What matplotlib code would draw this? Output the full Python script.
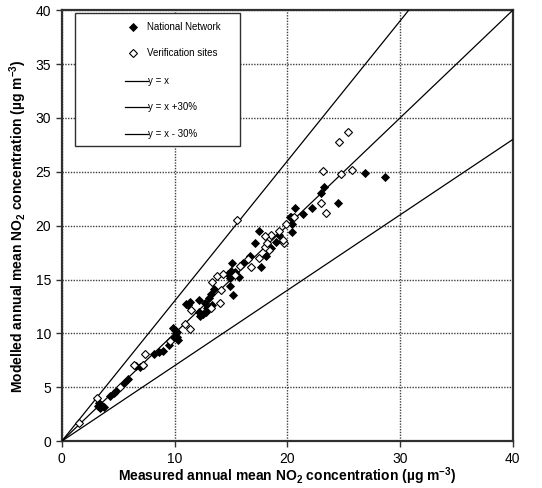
import matplotlib
matplotlib.use("Agg")
import matplotlib.pyplot as plt
from matplotlib.patches import Rectangle
import numpy as np

plt.rcParams['font.family'] = ['Liberation Sans', 'DejaVu Sans']
plt.rcParams['mathtext.fontset'] = 'custom'
plt.rcParams['mathtext.rm'] = 'Liberation Sans:bold'
plt.rcParams['mathtext.it'] = 'Liberation Sans:bold:italic'
plt.rcParams['mathtext.bf'] = 'Liberation Sans:bold'
plt.rcParams['mathtext.default'] = 'rm'

# National Network (filled diamonds): measured, modelled
nn_x = [3.2, 3.4, 3.5, 3.7, 3.3, 4.3, 4.6, 4.8, 5.5, 5.9, 6.6, 6.9, 7.2, 8.2, 8.6, 9.0, 9.5,
        9.9, 10.0, 10.1, 10.2, 9.9, 10.2, 10.3, 11.2, 11.0, 11.4, 12.2, 12.7, 12.9, 12.2, 12.5,
        12.8, 12.3, 13.3, 13.1, 13.2, 13.5, 14.7, 14.9, 15.2, 15.0, 15.4, 15.7, 14.9, 15.1,
        16.1, 16.7, 17.7, 18.1, 17.1, 17.5, 18.6, 19.0, 19.3, 20.4, 20.4, 20.2, 20.3, 20.7,
        21.4, 22.2, 23.0, 23.3, 24.5, 26.9, 28.7]
nn_y = [3.3, 3.1, 3.4, 3.2, 3.5, 4.2, 4.5, 4.7, 5.4, 5.8, 7.0, 6.9, 7.1, 8.1, 8.3, 8.4, 8.9,
        9.6, 10.3, 10.0, 9.7, 10.5, 10.1, 9.4, 12.6, 12.7, 12.9, 13.1, 12.8, 12.4, 12.0, 11.8,
        12.0, 11.6, 12.6, 13.3, 13.7, 14.1, 15.5, 14.4, 13.6, 15.8, 15.7, 15.2, 15.1, 16.5,
        16.5, 17.2, 16.2, 17.2, 18.4, 19.5, 17.9, 18.5, 19.1, 20.2, 19.4, 20.8, 20.8, 21.6,
        21.1, 21.6, 23.0, 23.6, 22.1, 24.9, 24.5]

# Verification sites (open diamonds): measured, modelled
vs_x = [1.5, 3.1, 5.2, 6.4, 7.2, 7.4, 9.6, 10.9, 11.4, 11.5, 13.2, 14.0, 13.3, 14.1, 13.8,
        14.3, 15.4, 15.8, 16.8, 16.5, 17.5, 18.4, 18.0, 18.2, 19.7, 19.6, 19.3, 18.6, 18.0,
        19.9, 15.5, 20.6, 23.0, 23.4, 23.2, 24.8, 25.7, 24.6, 25.4]
vs_y = [1.7, 4.0, 5.0, 7.1, 7.1, 8.1, 9.3, 10.9, 10.4, 12.2, 12.4, 12.8, 14.8, 14.0, 15.3,
        15.5, 15.4, 16.3, 16.2, 16.9, 17.0, 17.7, 18.0, 18.4, 18.4, 18.7, 19.5, 19.1, 19.0,
        20.2, 20.5, 20.8, 22.1, 21.2, 25.1, 24.8, 25.2, 27.8, 28.7]

line_x = [0, 40]
slopes = [1.0, 1.3, 0.7]
legend_labels = ["National Network", "Verification sites", "y = x", "y = x +30%", "y = x - 30%"]

fig = plt.figure(figsize=(5.42, 4.88), dpi=100)
ax = fig.add_axes([0.114, 0.096, 0.832, 0.883])

ax.set_xlim(0, 40)
ax.set_ylim(0, 40)
ax.set_xticks([0, 10, 20, 30, 40])
ax.set_yticks(np.arange(0, 41, 5))
ax.grid(True, color='#404040', linestyle=(0, (1, 1)), linewidth=1.0)
ax.set_axisbelow(True)

ax.plot(nn_x, nn_y, linestyle='none', marker='D', markersize=3.8,
        markerfacecolor='black', markeredgecolor='black', markeredgewidth=0.6, zorder=4)
ax.plot(vs_x, vs_y, linestyle='none', marker='D', markersize=3.8,
        markerfacecolor='white', markeredgecolor='black', markeredgewidth=0.8, zorder=5)
for s in slopes:
    ax.plot(line_x, [v * s for v in line_x], color='black', linewidth=0.9, zorder=3)

for sp in ax.spines.values():
    sp.set_color('#303030')
    sp.set_linewidth(1.6)
ax.tick_params(axis='both', labelsize=10, length=4, width=1, direction='out', color='#303030')

ax.set_xlabel("Measured annual mean NO$_2$ concentration (µg m$^{-3}$)",
              fontsize=10, fontweight='bold', labelpad=0)
ax.set_ylabel("Modelled annual mean NO$_2$ concentration (µg m$^{-3}$)",
              fontsize=10, fontweight='bold', labelpad=5)

# manual legend box (axes fraction coordinates)
tr = ax.transAxes
box = Rectangle((0.0288, 0.6845), 0.366, 0.3085, transform=tr, facecolor='white',
                edgecolor='#303030', linewidth=1.0, zorder=10)
ax.add_patch(box)
entry_y = [0.9606, 0.9002, 0.8353, 0.7749, 0.7123]
ax.plot([0.1574], [entry_y[0]], transform=tr, marker='D', markersize=3.8, linestyle='none',
        markerfacecolor='black', markeredgecolor='black', markeredgewidth=0.6, zorder=11, clip_on=False)
ax.plot([0.1574], [entry_y[1]], transform=tr, marker='D', markersize=3.8, linestyle='none',
        markerfacecolor='white', markeredgecolor='black', markeredgewidth=0.8, zorder=11, clip_on=False)
for yy in entry_y[2:]:
    ax.plot([0.1397, 0.1907], [yy, yy], transform=tr, color='black', linewidth=0.9,
            zorder=11, clip_on=False)
for lab, yy in zip(legend_labels, entry_y):
    x0 = 0.1920 if lab.startswith('y') else 0.1885
    ax.text(x0, yy, lab, transform=tr, fontsize=7, va='center', ha='left', zorder=12)

fig.savefig("out.png", dpi=100)
